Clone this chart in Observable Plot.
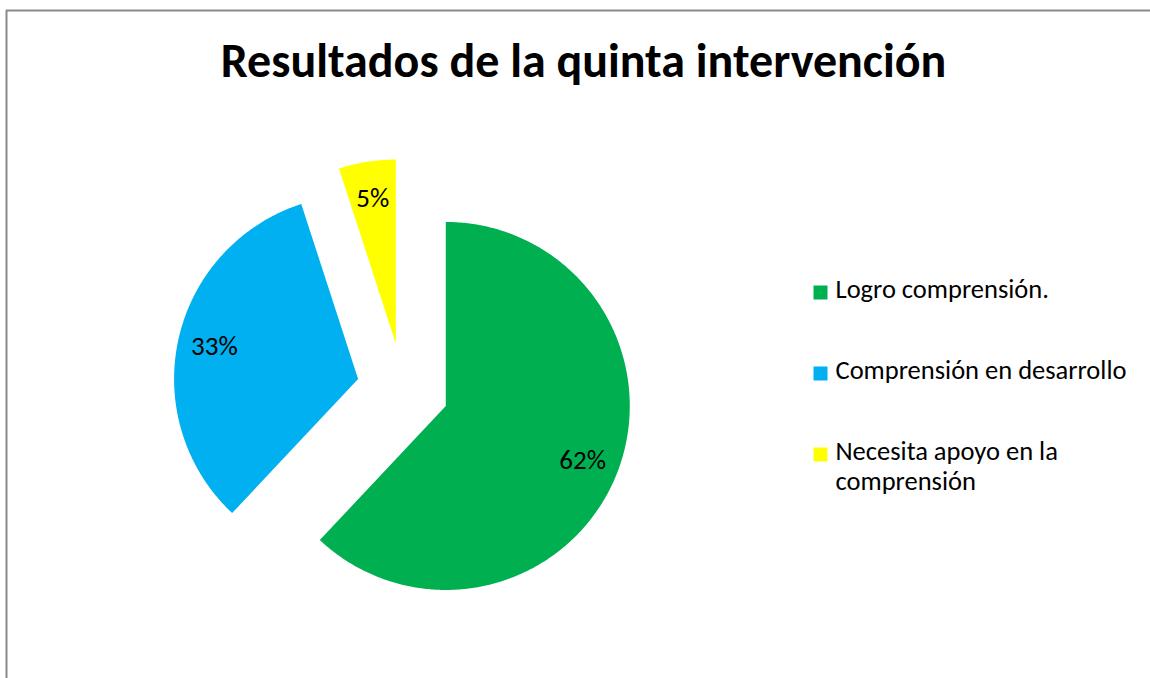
<!DOCTYPE html>
<html>
<head>
<meta charset="utf-8">
<script src="https://cdn.jsdelivr.net/npm/d3@7"></script>
<script src="https://cdn.jsdelivr.net/npm/@observablehq/plot@0.6"></script>
<style>
  html, body { margin: 0; padding: 0; background: #fff; }
  #chart svg { display: block; }
</style>
</head>
<body>
<div id="chart"></div>
<script>
// ---- data ----
const title = "Resultados de la quinta intervención";
const categories = ["Logro comprensión.", "Comprensión en desarrollo", "Necesita apoyo en la comprensión"];
const legendLabels = ["Logro comprensión.", "Comprensión en desarrollo", "Necesita apoyo en la\ncomprensión"];
const values = [62, 33, 5];
const valueLabels = ["62%", "33%", "5%"];
const colors = ["#00B050", "#00B0F0", "#FFFF00"];

// ---- layout ----
const W = 1150, H = 678;
const cx = 402.5, cy = 388.5, R = 184, explode = 46, labelFrac = 0.8;
const FONT = "Carlito, Calibri, Lato, sans-serif";

const arcs = d3.pie().sort(null).value(d => d)(values);

const slicePts = [];
const labelRows = [];
arcs.forEach((a, i) => {
  const mid = (a.startAngle + a.endAngle) / 2;
  const ox = cx + explode * Math.sin(mid);
  const oy = cy - explode * Math.cos(mid);
  slicePts.push({cat: categories[i], px: ox, py: oy});
  const n = Math.max(4, Math.ceil((a.endAngle - a.startAngle) / 0.01));
  for (let k = 0; k <= n; k++) {
    const t = a.startAngle + (a.endAngle - a.startAngle) * k / n;
    slicePts.push({cat: categories[i], px: ox + R * Math.sin(t), py: oy - R * Math.cos(t)});
  }
  labelRows.push({
    label: valueLabels[i],
    px: ox + labelFrac * R * Math.sin(mid),
    py: oy - labelFrac * R * Math.cos(mid)
  });
});

const legendX = 820, legendY0 = 292, legendStep = 81;
const legendRows = categories.map((c, i) => ({
  cat: c, text: legendLabels[i], px: legendX, py: legendY0 + i * legendStep
}));

const chart = Plot.plot({
  width: W,
  height: H,
  margin: 0,
  x: {type: "linear", domain: [0, W], range: [0, W], axis: null},
  y: {type: "linear", domain: [0, H], range: [0, H], axis: null},
  color: {domain: categories, range: colors},
  style: {fontFamily: FONT, background: "#fff"},
  marks: [
    // chart-area border (top & left visible)
    Plot.ruleY([10], {x1: 6, x2: W, stroke: "#898989", strokeWidth: 2}),
    Plot.ruleX([6], {y1: 10, y2: H, stroke: "#898989", strokeWidth: 2}),
    // title
    Plot.text([title], {x: () => 583, y: () => 61, text: d => d, fontSize: 48, fontWeight: "bold", fill: "#000", textAnchor: "middle", fontFamily: FONT}),
    // pie slices
    Plot.line(slicePts, {x: "px", y: "py", z: "cat", fill: "cat", stroke: null, curve: "linear-closed"}),
    // value labels
    Plot.text(labelRows, {x: "px", y: "py", text: "label", fontSize: 27, fill: "#000", fontFamily: FONT}),
    // legend
    Plot.dot(legendRows, {x: "px", y: "py", fill: "cat", symbol: "square", r: 7.9, stroke: null}),
    Plot.text(legendRows, {x: d => d.px + 15, y: "py", text: "text", textAnchor: "start", lineAnchor: "top", dy: -16, lineHeight: 1.13, fontSize: 26.5, fill: "#000", fontFamily: FONT})
  ]
});
document.getElementById("chart").appendChild(chart);
</script>
</body>
</html>
